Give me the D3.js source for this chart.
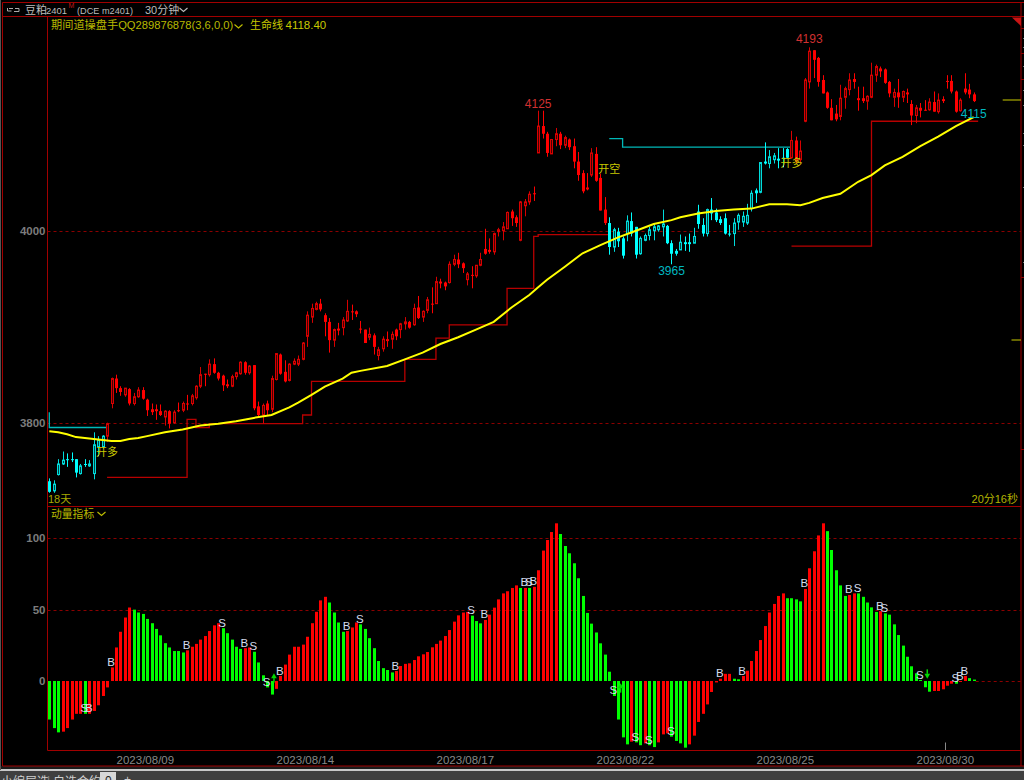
<!DOCTYPE html>
<html><head><meta charset="utf-8">
<style>html,body{margin:0;padding:0;background:#000;overflow:hidden}svg{display:block}
text{font-family:"Liberation Sans","Noto Sans CJK SC",sans-serif}</style>
<script src="https://cdn.jsdelivr.net/npm/d3@7/dist/d3.min.js"></script></head>
<body><svg id="c" width="1024" height="780"></svg>
<script>
const opens=[3739,3729,3746,3757,3762,3762,3762,3747,3757,3755,
3747,3775,3775,3786,3820,3846,3836,3829,3835,3820,
3827,3834,3824,3814,3814,3812,3806,3812,3800,3813,
3813,3820,3820,3826,3838,3851,3850,3861,3852,3849,
3840,3838,3848,3851,3863,3852,3860,3817,3808,3820,
3814,3845,3871,3853,3844,3861,3861,3866,3890,3910,
3918,3924,3912,3905,3886,3898,3899,3906,3916,3916,
3898,3897,3889,3891,3870,3877,3887,3887,3897,3897,
3903,3905,3902,3920,3910,3917,3924,3924,3947,3946,
3946,3965,3970,3966,3949,3954,3953,3964,3981,3980,
3978,3999,4000,4002,4020,4014,3990,4026,4030,4039,
4081,4109,4101,4080,4095,4101,4089,4095,4088,4072,
4060,4045,4058,4080,4055,4022,4008,3983,3999,3992,
3997,4010,4004,3976,3990,3995,4000,4001,4004,4005,
3987,3979,3980,3988,3988,3987,4020,4006,3997,4022,
4019,4012,4013,3997,3997,4009,4009,4008,4023,4042,
4040,4072,4070,4074,4075,4076,4085,4076,4094,4074,
4114,4155,4188,4180,4157,4144,4128,4122,4119,4139,
4147,4158,4138,4138,4135,4139,4162,4169,4168,4155,
4139,4144,4139,4144,4132,4120,4128,4126,4126,4134,
4124,4137,4156,4156,4145,4125,4148,4147,4142];
const highs=[3742,3740,3762,3770,3768,3769,3762,3757,3762,3761,
3790,3786,3787,3800,3847,3850,3838,3836,3836,3831,
3837,3837,3825,3820,3819,3819,3813,3813,3813,3821,
3822,3829,3830,3839,3858,3851,3866,3867,3853,3850,
3845,3850,3853,3864,3864,3860,3860,3822,3820,3823,
3849,3872,3872,3865,3862,3867,3870,3884,3916,3924,
3926,3929,3914,3909,3898,3904,3910,3928,3923,3917,
3906,3897,3899,3893,3879,3890,3895,3895,3898,3904,
3910,3906,3924,3932,3917,3931,3941,3952,3950,3947,
3968,3975,3977,3967,3957,3963,3964,3977,4002,3992,
3998,4003,4009,4020,4022,4016,4031,4033,4041,4046,
4125,4125,4103,4095,4107,4103,4099,4096,4096,4082,
4063,4060,4086,4087,4059,4035,4014,4003,4003,3994,
4016,4019,4004,3994,3997,4004,4008,4006,4022,4006,
3990,3981,3996,3994,3997,4003,4027,4013,4023,4034,
4023,4015,4018,4006,4013,4018,4020,4028,4042,4044,
4071,4092,4084,4081,4086,4086,4086,4104,4098,4094,
4159,4191,4188,4181,4162,4145,4137,4131,4152,4150,
4164,4164,4150,4150,4141,4175,4173,4171,4169,4156,
4148,4158,4146,4148,4136,4131,4133,4136,4138,4145,
4143,4140,4162,4162,4146,4138,4164,4153,4144];
const lows=[3727,3727,3745,3756,3754,3759,3743,3746,3754,3754,
3741,3765,3773,3780,3815,3831,3828,3827,3818,3818,
3826,3824,3807,3808,3803,3807,3797,3794,3799,3811,
3811,3813,3818,3824,3836,3838,3848,3851,3844,3833,
3836,3837,3845,3850,3850,3850,3813,3806,3799,3808,
3811,3844,3850,3842,3843,3860,3859,3865,3879,3904,
3917,3916,3890,3873,3879,3891,3891,3905,3907,3910,
3893,3883,3886,3871,3865,3874,3879,3877,3886,3888,
3897,3898,3901,3908,3905,3914,3914,3924,3940,3938,
3945,3963,3961,3956,3943,3940,3951,3963,3975,3976,
3975,3994,3990,4002,4005,4004,3989,4015,4027,4031,
4081,4096,4077,4080,4088,4085,4086,4084,4065,4052,
4039,4042,4056,4051,4021,4006,3975,3978,3983,3971,
3989,3994,3971,3975,3989,3990,3990,3999,3994,3986,
3965,3974,3980,3979,3978,3987,4002,3994,3994,4011,
4009,4006,3996,3994,3984,4001,4004,4006,4020,4029,
4039,4069,4065,4070,4065,4066,4075,4075,4070,4070,
4113,4148,4159,4150,4143,4127,4115,4114,4115,4127,
4141,4148,4125,4133,4126,4138,4155,4160,4153,4139,
4129,4128,4134,4133,4110,4112,4118,4125,4125,4124,
4122,4133,4148,4143,4123,4124,4142,4138,4134];
const closes=[3728,3736,3757,3761,3761,3761,3748,3755,3756,3757,
3777,3782,3786,3799,3846,3836,3832,3836,3820,3827,
3834,3825,3813,3811,3812,3808,3812,3799,3811,3812,
3820,3819,3828,3838,3850,3850,3861,3852,3846,3839,
3838,3848,3852,3863,3852,3859,3815,3808,3818,3813,
3846,3872,3851,3843,3861,3864,3866,3883,3912,3919,
3924,3918,3905,3886,3897,3896,3907,3916,3915,3913,
3897,3883,3892,3879,3876,3887,3885,3892,3890,3903,
3905,3899,3919,3909,3916,3928,3923,3947,3945,3942,
3965,3970,3965,3961,3955,3953,3964,3970,3976,3978,
3997,4001,4004,4019,4013,4008,4030,4030,4038,4038,
4109,4101,4081,4095,4101,4089,4097,4087,4072,4058,
4041,4043,4081,4052,4021,4008,3983,4001,3989,3974,
4010,3997,3975,3992,3995,4001,4004,4005,4007,3987,
3976,3976,3988,3986,3986,3994,4007,3997,4022,4018,
4011,4008,3997,3996,4008,4016,4015,4016,4039,4039,
4071,4070,4077,4078,4073,4075,4076,4094,4072,4083,
4157,4187,4178,4155,4143,4128,4115,4116,4138,4148,
4157,4155,4136,4135,4140,4162,4171,4166,4154,4143,
4144,4139,4145,4142,4120,4128,4125,4125,4134,4124,
4136,4135,4155,4145,4124,4136,4144,4142,4135];
const cyanCandleRuns=[[0,12],[126,166]];

const lifeIdx=[0,2,4,6,8,10,12,14,16,18,20,22,26,30,34,38,42,46,50,54,56,59,62,66,68,70,76,80,84,88,92,96,100,104,108,110,112,116,120,124,128,132,136,140,142,146,150,154,158,162,166,169,171,174,178,182,185,188,192,196,200,204,208];
const lifeVal=[3791,3790,3788,3785,3784,3783,3782,3781,3781,3783,3784,3786,3790,3793,3797,3799,3801.5,3805,3808,3816,3821,3829,3837.5,3846,3852,3854,3859,3866,3873,3882,3889,3897,3905,3920,3933,3941,3949,3962.5,3976.5,3985,3993,4000,4007,4011,4014,4018,4020.5,4022,4023,4027.5,4027.5,4026.5,4029,4034,4038.5,4051,4058,4068,4077,4088,4098,4109,4118.4];

const stopCyan1Idx=[0,0,13], stopCyan1Val=[3811,3795,3795];
const stopRed1Idx=[13,31,33,36,57,59,80,87,90,103,109,110,126];
const stopRed1Val=[3743,3803.5,3795,3799,3808,3843,3866,3888,3902,3940,3994,3996,3996];
const stopCyan2Idx=[126,129,167], stopCyan2Val=[4096,4087,4087];
const stopRed2Idx=[167,185,209], stopRed2Val=[3984,4114,4114];

const momentum=[-27,-33,-36,-35.5,-33,-27,-23,-23,-23,-23,
-21,-17,-10.5,-4.5,9.5,23.5,34.5,44.5,51.5,50,
48,47,43.5,40.5,36.5,32,26.5,23.5,21,21,
20,21.5,24,26,29,31.5,35,39,40.5,37,
33.5,29,24,22.5,23,23.5,20.5,13,4,-4.5,
-9.5,-5.5,3.5,11.5,18.5,24,24,25.5,31,40.5,
48.5,56.5,59,55,48,41,34.5,35,37.5,41,
39.7,36.5,30,23,14,9,7.7,6,7,10.5,
12,12.4,14.7,17.3,18.7,20.3,23.6,26,28.3,31.5,
35.7,41.6,46,48,48.4,45.8,42,40.4,42.8,46.5,
51.4,57.2,61.4,62.9,65.2,67,65.2,65.2,65.2,66,
77.6,91.4,98.8,104.4,110.5,103,94.6,89.5,82.5,72,
59.6,47.7,40.2,34,26.4,18.5,6.5,-10.5,-27,-39.5,
-44.4,-42.5,-43,-45,-43.7,-45,-46.3,-43,-37.4,-36.7,
-39,-42,-43.7,-46.7,-44.4,-38.3,-28.7,-23,-16.4,-7.7,
-1,1.6,5,5,1.6,1.2,3.5,7.2,14,21,
28.7,38.5,48,54,59.6,61.4,58,58,57.2,55.8,
64.5,79,90.9,102,110.5,105,91.8,77.6,67,59.6,
60.3,61.4,61.4,59,55,51.6,48.4,49,47.4,46.5,
39.7,32.2,24.8,17,10.3,5.4,0.7,-4.4,-7.5,-7,
-7,-5.8,-3.3,-1.9,-1.9,-0.7,3.5,2,1];
const greenRuns=[[0,2],[8,8],[19,30],[39,43],[46,50],[63,66],[70,77],[95,97],[106,106],[108,108],[115,130],[132,133],[135,136],[140,143],[154,155],[166,169],[175,179],[182,186],[188,198],[204,204],[207,208]];

const signalIdx=[8,9,14,31,39,44,46,49,52,67,70,78,95,98,107,108,109,127,132,135,140,151,156,170,180,182,187,188,196,204,205,206];
const signalTxt=["S","B","B","B","S","B","S","S","B","B","S","B","S","B","B","S","B","S","S","S","S","B","B","B","B","S","B","S","S","S","B","B"];
const arrowIdx=[51,129,198], arrowVal=[2,-5,5], arrowDir=["up","up","down"];

const priceTicks=[3800,4000];
const momTicks=[0,50,100];
const dateIdx=[21.5,57.5,93.5,129.5,165.5,201.5];
const dateTxt=["2023/08/09","2023/08/14","2023/08/17","2023/08/22","2023/08/25","2023/08/30"];
const peakIdx=[110,171,140,208], peakVal=[4125,4193,3965,4115], peakDir=["high","high","low","high"];
const tradeIdx=[13,126,167], tradeVal=[3770,4065,4071], tradeTxt=["开多","开空","开多"];

const RED="#ff0000",CYAN="#00ffff",FRAME="#8c0000",OLIVE="#b4b400";
const svg=d3.select("#c");
const x=d3.scaleLinear().domain([0,208]).range([49.3,973.7]);
const y=d3.scaleLinear().domain([3800,4000]).range([422.7,230.7]);
const ym=d3.scaleLinear().domain([0,100]).range([681,538.3]);
const inRuns=(runs,i)=>runs.some(r=>i>=r[0]&&i<=r[1]);
const L=47.5,R=1021;

svg.append("rect").attr("width",1024).attr("height",780).attr("fill","#000");
// status strip
svg.append("rect").attr("x",0).attr("y",766).attr("width",1024).attr("height",14).attr("fill","#1a1a1a");
svg.append("rect").attr("x",0).attr("y",769).attr("width",1024).attr("height",2).attr("fill","#c8c8c8");
svg.append("rect").attr("x",0).attr("y",771).attr("width",1024).attr("height",9).attr("fill","#3f3f3f");
svg.append("rect").attr("x",0).attr("y",0).attr("width",1).attr("height",770).attr("fill","#555");
svg.append("rect").attr("x",100).attr("y",772).attr("width",16).attr("height",8).attr("fill","#d8d8d8");
const stat=svg.append("g").attr("fill","#cfcfcf").style("font-size","12px");
stat.append("text").attr("x",1).attr("y",786).text("小编层选");
stat.append("text").attr("x",47).attr("y",785).attr("fill","#888").text("|");
stat.append("text").attr("x",53).attr("y",786).text("自选合约");
stat.append("text").attr("x",105).attr("y",785).attr("fill","#222").text("0");
stat.append("text").attr("x",124).attr("y",784).text("+");

// frame
const frame=svg.append("g").attr("stroke","#a00000").attr("fill","none").attr("stroke-width",1);
frame.append("path").attr("d",`M2.5,2.5H1024M2.5,2.5V766H1024M${R},2.5V766`);
frame.append("path").attr("d",`M2.5,16.5H1024`);
frame.append("path").attr("d",`M${L},17V750.5H${R}M${L},506.5H${R}`);
svg.append("path").attr("fill","#c81414").attr("d",`M1012,17.5H${R}V26Z`);
[28,53,79,277,449].forEach(v=>svg.append("path").attr("stroke",FRAME).attr("d",`M${R},${v}.5H1024`));
[38,47,66,90,105,133,145,187,262].forEach(v=>svg.append("path").attr("stroke","#777").attr("d",`M1023,${v}.5H1024`));
svg.append("path").attr("stroke",OLIVE).attr("stroke-width",1.3).attr("opacity",.75).attr("d",`M1002.7,100H${R}M1011.5,340H${R}`);
svg.append("path").attr("stroke","#888").attr("d","M945.5,742.5V750");

// grids
const grid=svg.append("g").attr("stroke","#8c0000").attr("stroke-dasharray","3,3");
grid.selectAll(".p").data(priceTicks).join("line").attr("x1",L).attr("x2",R).attr("y1",d=>Math.round(y(d))+.5).attr("y2",d=>Math.round(y(d))+.5);
grid.selectAll(".m").data(momTicks).join("line").attr("x1",d=>d===0?x(208)+2:L).attr("x2",R).attr("y1",d=>Math.round(ym(d))+.5).attr("y2",d=>Math.round(ym(d))+.5);

// axes
function styleAxis(g,sz){g.select(".domain").remove();g.selectAll("line").remove();
 g.selectAll("text").attr("fill","#7c7c7c").style("font-size",sz).style("font-family",'"Liberation Sans",sans-serif').style("font-weight","bold");}
svg.append("g").attr("transform",`translate(${L},0)`).call(d3.axisLeft(y).tickValues(priceTicks).tickSize(0).tickPadding(2).tickFormat(d3.format("d"))).call(styleAxis,"11.5px");
svg.append("g").attr("transform",`translate(${L},0)`).call(d3.axisLeft(ym).tickValues(momTicks).tickSize(0).tickPadding(2).tickFormat(d3.format("d"))).call(styleAxis,"11.5px");
svg.append("g").attr("transform","translate(0,751)").call(d3.axisBottom(x).tickValues(dateIdx).tickSize(0).tickPadding(5).tickFormat((d,i)=>dateTxt[i])).call(g=>{styleAxis(g,"11.5px");g.selectAll("text").style("font-weight","normal").attr("fill","#888");});

// stop lines
const stepLine=d3.line().curve(d3.curveStepAfter).x(d=>x(d[0])).y(d=>y(d[1]));
const zip=(a,b)=>a.map((v,i)=>[v,b[i]]);
[[stopCyan1Idx,stopCyan1Val,"#00b8b8"],[stopRed1Idx,stopRed1Val,"#b80000"],[stopCyan2Idx,stopCyan2Val,"#00b8b8"],[stopRed2Idx,stopRed2Val,"#b80000"]].forEach(s=>{
 svg.append("path").attr("fill","none").attr("stroke",s[2]).attr("stroke-width",1.3).attr("d",stepLine(zip(s[0],s[1])));});

// candles
const candles=opens.map((o,i)=>({i,o,h:highs[i],l:lows[i],c:closes[i]}));
const cg=svg.append("g").selectAll("g").data(candles).join("g").attr("transform",d=>`translate(${Math.round(x(d.i))+.5},0)`);
const isCyan=d=>inRuns(cyanCandleRuns,d.i);
const bright=d=>isCyan(d)?CYAN:RED;
const dim=d=>isCyan(d)?"#00dcdc":"#d80000";
cg.append("line").attr("y1",d=>y(d.h)).attr("y2",d=>y(d.l)).attr("stroke",d=>d.c>d.o?dim(d):bright(d)).attr("stroke-width",1);
cg.append("rect").attr("x",d=>d.c>d.o?-1:-1.5).attr("width",d=>d.c>d.o?2:3)
 .attr("y",d=>y(Math.max(d.o,d.c))).attr("height",d=>Math.max(1,Math.abs(y(d.o)-y(d.c))))
 .attr("fill",d=>d.c>d.o?(isCyan(d)?"#004444":"#480000"):bright(d)).attr("stroke",d=>d.c>d.o?dim(d):"none").attr("stroke-width",1);

// life line
svg.append("path").attr("fill","none").attr("stroke","#ffff00").attr("stroke-width",2)
 .attr("d",d3.line().x(d=>x(d[0])).y(d=>y(d[1]))(zip(lifeIdx,lifeVal)));

// peak labels
svg.append("g").selectAll("text").data(peakIdx).join("text").attr("x",d=>x(d)).attr("y",(d,i)=>y(peakVal[i])+(peakDir[i]==="high"?-2.5:11))
 .attr("text-anchor","middle").style("font-size","12px").attr("fill",(d,i)=>peakDir[i]==="high"&&d!==208?"#d03030":"#00b8c0").text((d,i)=>peakVal[i]);
// trade labels
svg.append("g").selectAll("text").data(tradeIdx).join("text").attr("x",d=>x(d)).attr("y",(d,i)=>y(tradeVal[i])+4.5)
 .attr("text-anchor","middle").style("font-size","11px").attr("fill","#c8c800").text((d,i)=>tradeTxt[i]);

// momentum
svg.append("g").selectAll("rect").data(momentum).join("rect").attr("x",(d,i)=>Math.round(x(i))-1).attr("width",3)
 .attr("y",d=>Math.min(ym(d),ym(0))).attr("height",d=>Math.abs(ym(d)-ym(0)))
 .attr("fill",(d,i)=>inRuns(greenRuns,i)?"#00ff00":"#ff0000");
svg.append("g").selectAll("text").data(signalIdx).join("text").attr("x",d=>x(d)-.5).attr("y",d=>ym(momentum[d])-1.5)
 .attr("text-anchor","middle").style("font-size","11.5px").attr("fill","#d4dcec").text((d,i)=>signalTxt[i]);
const arrows=svg.append("g").selectAll("g").data(arrowIdx).join("g")
 .attr("transform",(d,i)=>`translate(${x(d)-2},${ym(arrowVal[i])}) rotate(${arrowDir[i]==="up"?0:180})`);
arrows.append("path").attr("d",d3.symbol(d3.symbolTriangle,14)).attr("fill","#00d800").attr("transform","translate(0,-1.5)");
arrows.append("rect").attr("x",-.75).attr("y",0).attr("width",1.5).attr("height",4.5).attr("fill","#00d800");

// header texts
const T=(xx,yy,s,fill,size,anchor)=>svg.append("text").attr("x",xx).attr("y",yy).attr("fill",fill).attr("text-anchor",anchor||"start").style("font-size",(size||11.3)+"px").text(s);
const chev=(xx,yy,col)=>svg.append("path").attr("fill","none").attr("stroke",col).attr("stroke-width",1.1).attr("d",`M${xx},${yy}l4,3.5l4,-3.5`);
svg.append("path").attr("fill","none").attr("stroke","#aaa").attr("d","M9,8.5h4M7.5,8v3h4M15,8.5h4v3h-5");
T(25,13.5,"豆粕","#bcbcbc",11);
T(46,13.5,"2401","#bcbcbc",9.5);
T(68.5,8,"M","#c01818",7);
T(77,13.5,"(DCE m2401)","#bcbcbc",9.5).attr("textLength",56).attr("lengthAdjust","spacingAndGlyphs");
T(145,13.5,"30分钟","#bcbcbc",11);
chev(179.5,8,"#bcbcbc");
T(51,29,"期间道操盘手QQ289876878(3,6,0,0)","#b8b800",11.2);
chev(234.5,24.5,"#c0c000");
T(250,29,"生命线","#c8c800",11);
T(285.5,29,"4118.40","#c8c800",11.5);
T(48,502.5,"18天","#a8a800",11);
T(1018,503,"20分16秒",OLIVE,11,"end");
T(51,518,"动量指标","#b8b800",10.8);
chev(97.5,512,"#c0c000");
</script></body></html>
